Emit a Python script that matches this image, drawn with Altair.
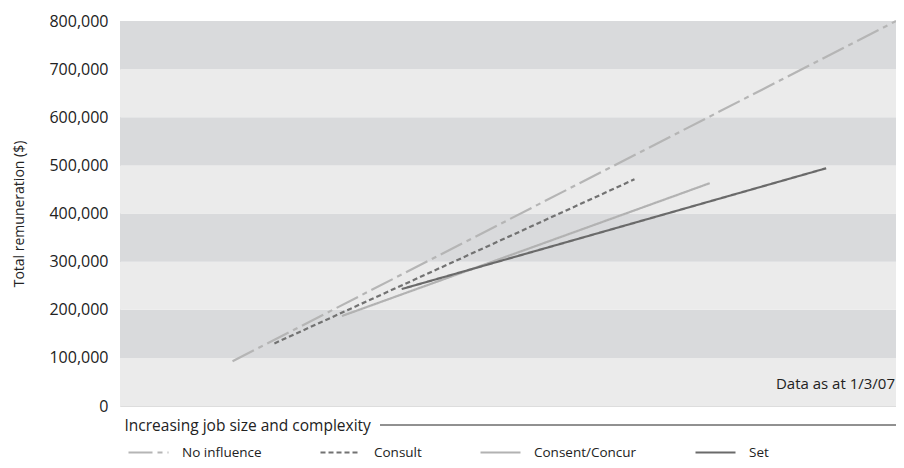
import altair as alt
import pandas as pd

# ---- data ----
series_names = ["No influence", "Consult", "Consent/Concur", "Set"]
x_start = [14.5, 19.9, 28.6, 36.3]
x_end = [100.0, 66.3, 76.0, 91.0]
y_start = [93000, 130000, 187000, 243000]
y_end = [800000, 471000, 463000, 494000]

band_lo = [0, 100000, 200000, 300000, 400000, 500000, 600000, 700000]
band_hi = [100000, 200000, 300000, 400000, 500000, 600000, 700000, 800000]
band_shade = ["light", "dark", "light", "dark", "light", "dark", "light", "dark"]

y_ticks = [0, 100000, 200000, 300000, 400000, 500000, 600000, 700000, 800000]

line_colors = ["#b5b5b5", "#727272", "#b2b2b2", "#6a6a6a"]
line_dashes = [[24, 5, 5, 5], [5, 3], [1, 0], [1, 0]]

rows = []
for s, xs, xe, ys, ye in zip(series_names, x_start, x_end, y_start, y_end):
    rows.append({"series": s, "x": xs, "y": ys})
    rows.append({"series": s, "x": xe, "y": ye})
lines_df = pd.DataFrame(rows)
bands_df = pd.DataFrame({"lo": band_lo, "hi": band_hi, "shade": band_shade})

FONT = "Open Sans"
W, H = 776, 385

xscale = alt.Scale(domain=[0, 100], nice=False, zero=False)
yscale = alt.Scale(domain=[0, 800000], nice=False)

legend_cfg = dict(title=None, orient="none", legendX=7, legendY=410, padding=0,
                  direction="horizontal", symbolType="stroke",
                  symbolSize=1600, symbolStrokeWidth=2.2,
                  labelFont=FONT, labelFontSize=13.5,
                  labelColor="#222222", labelOffset=12,
                  columnPadding=54, labelLimit=300)

bands = alt.Chart(bands_df).mark_rect().encode(
    x=alt.value(0),
    x2=alt.value(W),
    y=alt.Y("lo:Q", scale=yscale,
            axis=alt.Axis(values=y_ticks, format=",d", grid=False, ticks=False,
                          domain=False, labelPadding=12, labelFontSize=16,
                          labelFont=FONT, labelColor="#222222",
                          title="Total remuneration ($)", titleFont=FONT,
                          titleFontSize=14, titleFontWeight="normal",
                          titleColor="#222222", titlePadding=22)),
    y2="hi:Q",
    color=alt.Color("shade:N",
                    scale=alt.Scale(domain=["light", "dark"], range=["#ebebeb", "#d9dadc"]),
                    legend=None),
)

lines = alt.Chart(lines_df).mark_line(strokeWidth=2.2, strokeCap="butt").encode(
    x=alt.X("x:Q", scale=xscale,
            axis=alt.Axis(labels=False, ticks=False, domain=False, grid=False,
                          title="Increasing job size and complexity",
                          titleFont=FONT, titleFontSize=15.5, titleFontWeight="normal",
                          titleColor="#222222", titleAnchor="start", titleAlign="left",
                          titleBaseline="middle", titleX=4, titleY=19)),
    y=alt.Y("y:Q", scale=yscale),
    detail="series:N",
    stroke=alt.Stroke("series:N",
                      scale=alt.Scale(domain=series_names, range=line_colors),
                      legend=alt.Legend(**legend_cfg)),
    strokeDash=alt.StrokeDash("series:N",
                              scale=alt.Scale(domain=series_names, range=line_dashes),
                              legend=alt.Legend(**legend_cfg)),
    order="x:Q",
)

arrow = alt.Chart(pd.DataFrame({"a": [0]})).mark_rule(color="#222222", strokeWidth=1).encode(
    x=alt.value(260), x2=alt.value(W), y=alt.value(H + 19)
)

note = alt.Chart(pd.DataFrame({"t": ["Data as at 1/3/07"]})).mark_text(
    align="right", baseline="middle", font=FONT, fontSize=15, color="#222222"
).encode(text="t:N", x=alt.value(W - 1), y=alt.value(H - 22))

chart = alt.layer(bands, lines, arrow, note).properties(
    width=W, height=H,
    padding={"left": 112, "top": 13, "right": 0, "bottom": 52},
    autosize=alt.AutoSizeParams(type="none"),
).configure_view(strokeWidth=0).configure(background="white")

chart.save("out.html", embed_options={"renderer": "svg", "actions": False})
